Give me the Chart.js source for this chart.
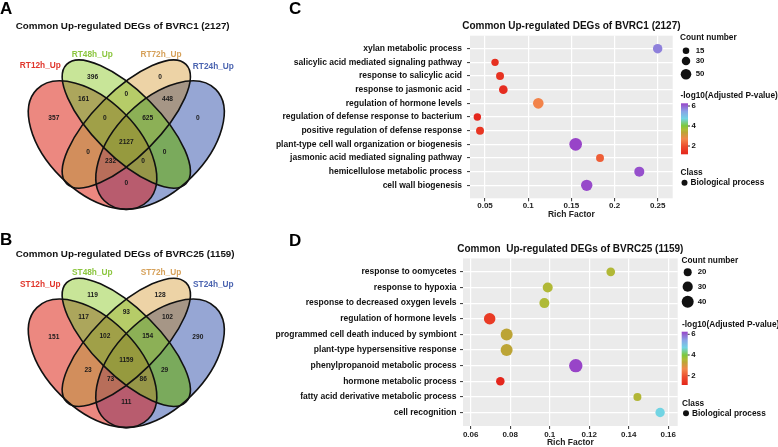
<!DOCTYPE html>
<html>
<head>
<meta charset="utf-8">
<title>Common up-regulated DEGs</title>
<script src="https://cdn.jsdelivr.net/npm/chart.js@4.4.1/dist/chart.umd.min.js"></script>
<style>
  html, body { margin: 0; padding: 0; background: #fff; }
  #fig { position: relative; width: 778px; height: 447px; overflow: hidden; }
  #fig canvas { position: absolute; }
  .tag { position: absolute; font: bold 17px/1 "Liberation Sans", Arial, sans-serif; color: #000; }
</style>
</head>
<body>
<div id="fig">
  <canvas id="vennA" width="262" height="218" style="left:0;top:0"></canvas>
  <canvas id="vennB" width="262" height="229" style="left:0;top:218px"></canvas>
  <canvas id="dotC" width="513" height="222" style="left:265px;top:0"></canvas>
  <canvas id="dotD" width="513" height="225" style="left:265px;top:222px"></canvas>
  <div class="tag" style="left:0;top:0">A</div>
  <div class="tag" style="left:0;top:231px">B</div>
  <div class="tag" style="left:289px;top:0">C</div>
  <div class="tag" style="left:289px;top:232px">D</div>
</div>
<script>
// ---- data: Venn panels (region order matches regionKeys) ----
const setKeys = ['R', 'G', 'O', 'B'];
const regionKeys = ['G', 'GO', 'O', 'RG', 'RGO', 'RGOB', 'GOB', 'OB', 'R', 'RO', 'ROB', 'RGB', 'GB', 'B', 'RB'];
const setsA = ['RT12h_Up', 'RT48h_Up', 'RT72h_Up', 'RT24h_Up'];
const countsA = [396, 0, 0, 161, 0, 2127, 625, 448, 357, 0, 232, 0, 0, 0, 0];
const setsB = ['ST12h_Up', 'ST48h_Up', 'ST72h_Up', 'ST24h_Up'];
const countsB = [119, 93, 128, 117, 102, 1159, 154, 102, 151, 23, 73, 86, 29, 290, 111];

// ---- data: GO dot plot C ----
const termsC = ['xylan metabolic process', 'salicylic acid mediated signaling pathway', 'response to salicylic acid',
  'response to jasmonic acid', 'regulation of hormone levels', 'regulation of defense response to bacterium',
  'positive regulation of defense response', 'plant-type cell wall organization or biogenesis',
  'jasmonic acid mediated signaling pathway', 'hemicellulose metabolic process', 'cell wall biogenesis'];
const richC = [0.250, 0.0616, 0.0674, 0.0712, 0.1117, 0.0411, 0.0442, 0.155, 0.1832, 0.2287, 0.1678];
const countC = [38, 21, 25, 31, 50, 21, 25, 74, 25, 44, 59];
const pvalC = [5.76, 1.38, 1.45, 1.30, 2.65, 1.17, 1.52, 6.27, 2.19, 6.17, 6.22];
const xTicksC = [0.05, 0.1, 0.15, 0.2, 0.25];
const sizeBreaksC = [15, 30, 50];

// ---- data: GO dot plot D ----
const termsD = ['response to oomycetes', 'response to hypoxia', 'response to decreased oxygen levels',
  'regulation of hormone levels', 'programmed cell death induced by symbiont', 'plant-type hypersensitive response',
  'phenylpropanoid metabolic process', 'hormone metabolic process', 'fatty acid derivative metabolic process',
  'cell recognition'];
const richD = [0.1309, 0.0990, 0.0973, 0.0696, 0.0782, 0.0782, 0.1132, 0.0750, 0.1444, 0.1559];
const countD = [23, 29, 29, 37, 40, 40, 49, 22, 20, 26];
const pvalD = [3.55, 3.55, 3.58, 1.55, 3.30, 3.30, 6.25, 1.10, 3.52, 4.70];
const xTicksD = [0.06, 0.08, 0.1, 0.12, 0.14, 0.16];
const sizeBreaksD = [20, 30, 40];
const pvalTicks = [2, 4, 6];

// ---- layout / style ----
const FONT = '"Liberation Sans", Arial, sans-serif';
Chart.defaults.font.family = FONT;

// ellipses in venn units (x right, y up), rot in screen degrees
const vennShapes = [
  { cx: 0.35, cy: 0.47, a: 0.35, b: 0.20, rot: 45 },
  { cx: 0.50, cy: 0.563, a: 0.375, b: 0.145, rot: 45 },
  { cx: 0.50, cy: 0.563, a: 0.375, b: 0.145, rot: -45 },
  { cx: 0.65, cy: 0.47, a: 0.35, b: 0.20, rot: -45 }
];
const regionPos = [[0.35, 0.77], [0.5, 0.695], [0.65, 0.77], [0.31, 0.675], [0.405, 0.59], [0.5, 0.485],
  [0.595, 0.59], [0.683, 0.675], [0.178, 0.588], [0.33, 0.44], [0.43, 0.40], [0.575, 0.40], [0.67, 0.44],
  [0.818, 0.588], [0.5, 0.30]];
const setLabelPos = [[0.118, 0.82], [0.349, 0.869], [0.654, 0.869], [0.887, 0.817]];
const setColours = ['#E0362C', '#8CC63F', '#D6A15A', '#4B64B0'];
const regionFill = {
  G: '#C8E598', GO: '#B6CC68', O: '#EDD3A6', RG: '#ACA65C', RGO: '#A0A048', RGOB: '#969A3E',
  GOB: '#8CB056', OB: '#A69686', R: '#EC8880', RO: '#D28E5C', ROB: '#B86E5A', RGB: '#969648',
  GB: '#7AAA5C', B: '#96A6D4', RB: '#B85C6E'
};

const colourStops = [
  [0.00, '#E4261C'], [0.15, '#EC4A2C'], [0.30, '#F2874C'], [0.43, '#BBA535'], [0.48, '#B0BA36'],
  [0.56, '#7CC83C'], [0.70, '#72D4E4'], [0.84, '#88A4E6'], [1.00, '#9844C8']
];

function hexToRgb(h) {
  const n = parseInt(h.slice(1), 16);
  return [(n >> 16) & 255, (n >> 8) & 255, n & 255];
}

function pvalColour(p, lim) {
  const t = Math.min(1, Math.max(0, (p - lim[0]) / (lim[1] - lim[0])));
  for (let i = 1; i < colourStops.length; i++) {
    const [t1, c1] = colourStops[i];
    const [t0, c0] = colourStops[i - 1];
    if (t <= t1) {
      const f = (t - t0) / (t1 - t0);
      const a = hexToRgb(c0), b = hexToRgb(c1);
      return 'rgb(' + a.map((v, k) => Math.round(v + (b[k] - v) * f)).join(',') + ')';
    }
  }
  return colourStops[colourStops.length - 1][1];
}

// ---- Venn ----
function vennPlugin(sets, counts, title, titleY) {
  return {
    id: 'venn',
    beforeDatasetsDraw(chart) {
      const { ctx, scales: { x, y } } = chart;
      const k = x.getPixelForValue(1) - x.getPixelForValue(0);
      const shapes = vennShapes.map(e => ({
        cx: x.getPixelForValue(e.cx), cy: y.getPixelForValue(e.cy),
        rx: e.a * k, ry: e.b * k, rot: e.rot * Math.PI / 180
      }));
      const trace = s => {
        ctx.moveTo(s.cx + s.rx * Math.cos(s.rot), s.cy + s.rx * Math.sin(s.rot));
        ctx.ellipse(s.cx, s.cy, s.rx, s.ry, s.rot, 0, 2 * Math.PI);
      };
      // paint each region on its own, clipped in/out of every ellipse
      regionKeys.forEach(key => {
        ctx.save();
        shapes.forEach((s, i) => {
          const inside = key.includes(setKeys[i]);
          ctx.beginPath();
          if (!inside) ctx.rect(0, 0, chart.width, chart.height);
          trace(s);
          ctx.clip(inside ? 'nonzero' : 'evenodd');
        });
        ctx.fillStyle = regionFill[key];
        ctx.fillRect(0, 0, chart.width, chart.height);
        ctx.restore();
      });
      ctx.save();
      ctx.lineWidth = 1.6;
      ctx.strokeStyle = '#111';
      shapes.forEach(s => { ctx.beginPath(); trace(s); ctx.stroke(); });
      ctx.restore();
    },
    afterDatasetsDraw(chart) {
      const { ctx, scales: { x, y } } = chart;
      const pts = chart.getDatasetMeta(0).data;
      ctx.save();
      ctx.textAlign = 'center';
      ctx.textBaseline = 'middle';
      ctx.fillStyle = '#1a1a1a';
      ctx.font = 'bold 6.6px ' + FONT;
      pts.forEach((p, i) => ctx.fillText(String(counts[i]), p.x, p.y));
      ctx.font = 'bold 8.3px ' + FONT;
      sets.forEach((s, i) => {
        ctx.fillStyle = setColours[i];
        ctx.fillText(s, x.getPixelForValue(setLabelPos[i][0]), y.getPixelForValue(setLabelPos[i][1]));
      });
      ctx.textAlign = 'left';
      ctx.fillStyle = '#111';
      ctx.font = 'bold 9.8px ' + FONT;
      ctx.fillText(title, 15.7, titleY);
      ctx.restore();
    }
  };
}

function vennChart(id, sets, counts, title, titleY, yMin, yMax) {
  return new Chart(document.getElementById(id), {
    type: 'scatter',
    data: { datasets: [{ data: regionPos.map(p => ({ x: p[0], y: p[1] })), pointRadius: 0 }] },
    options: {
      responsive: false, animation: false, events: [],
      layout: { padding: 0 },
      plugins: { legend: { display: false }, tooltip: { enabled: false } },
      scales: {
        x: { type: 'linear', display: false, min: -0.0613, max: 1.1031 },
        y: { type: 'linear', display: false, min: yMin, max: yMax }
      }
    },
    plugins: [vennPlugin(sets, counts, title, titleY)]
  });
}

vennChart('vennA', setsA, countsA, 'Common Up-regulated DEGs of BVRC1 (2127)', 26.7, 0.1473, 1.112);
vennChart('vennB', setsB, countsB, 'Common Up-regulated DEGs of BVRC25 (1159)', 36.3, 0.0999, 1.1133);

// ---- dot plots ----
const panelBg = {
  id: 'panelBg',
  beforeDraw(chart) {
    const { ctx, chartArea: a } = chart;
    ctx.save();
    ctx.fillStyle = '#EBEBEB';
    ctx.fillRect(a.left, a.top, a.right - a.left, a.bottom - a.top);
    ctx.restore();
  }
};

function dotLegend(cfg) {
  const L = cfg.legend;
  return {
    id: 'dotLegend',
    afterDraw(chart) {
      const { ctx, chartArea: a } = chart;
      ctx.save();
      ctx.fillStyle = '#111';
      ctx.textBaseline = 'middle';
      ctx.textAlign = 'center';
      ctx.font = 'bold 10px ' + FONT;
      ctx.fillText(cfg.title, (a.left + a.right) / 2, L.titleY);

      ctx.textAlign = 'left';
      ctx.font = 'bold 8.3px ' + FONT;
      ctx.fillText('Count number', L.x, L.countY);
      ctx.font = 'bold 7.8px ' + FONT;
      cfg.sizeBreaks.forEach((c, i) => {
        ctx.beginPath();
        ctx.arc(L.keyX, L.keyY[i], cfg.size(c), 0, 2 * Math.PI);
        ctx.fill();
        ctx.fillText(String(c), L.keyLabelX, L.keyY[i]);
      });

      ctx.font = 'bold 8.3px ' + FONT;
      ctx.fillText('-log10(Adjusted P-value)', L.x + 0.5, L.pvalY);
      const lim = cfg.limits;
      const g = ctx.createLinearGradient(0, L.barBottom, 0, L.barTop);
      colourStops.forEach(([t, c]) => g.addColorStop(t, c));
      ctx.fillStyle = g;
      ctx.fillRect(L.barX, L.barTop, L.barW, L.barBottom - L.barTop);
      ctx.fillStyle = '#111';
      ctx.strokeStyle = '#333';
      ctx.lineWidth = 1;
      ctx.font = 'bold 7.8px ' + FONT;
      pvalTicks.forEach(t => {
        const ty = L.barBottom - (t - lim[0]) / (lim[1] - lim[0]) * (L.barBottom - L.barTop);
        ctx.beginPath();
        ctx.moveTo(L.barX + L.barW, ty);
        ctx.lineTo(L.barX + L.barW + 2, ty);
        ctx.stroke();
        ctx.fillText(String(t), L.barX + L.barW + 3.5, ty);
      });

      ctx.font = 'bold 8.3px ' + FONT;
      ctx.fillText('Class', L.x + 0.5, L.classY);
      ctx.beginPath();
      ctx.arc(L.x + 4.5, L.classY + 10, 3, 0, 2 * Math.PI);
      ctx.fill();
      ctx.fillText('Biological process', L.x + 10.5, L.classY + 10);
      ctx.restore();
    }
  };
}

function dotChart(id, cfg) {
  const n = cfg.terms.length;
  return new Chart(document.getElementById(id), {
    type: 'bubble',
    data: {
      datasets: [{
        data: cfg.rich.map((v, i) => ({ x: v, y: i, r: cfg.size(cfg.count[i]) })),
        backgroundColor: cfg.pval.map(p => pvalColour(p, cfg.limits)),
        borderWidth: 0
      }]
    },
    options: {
      responsive: false, animation: false, events: [],
      layout: { padding: { left: 0, top: cfg.top, right: cfg.right, bottom: 0 } },
      plugins: { legend: { display: false }, tooltip: { enabled: false } },
      scales: {
        x: {
          type: 'linear', min: cfg.xMin, max: cfg.xMax,
          afterBuildTicks: s => { s.ticks = cfg.xTicks.map(v => ({ value: v })); },
          afterFit: s => { s.height = cfg.xAxisH; },
          ticks: {
            callback: v => String(+v.toFixed(2)), autoSkip: false, maxRotation: 0,
            font: { size: 8, weight: 'bold' }, color: '#222', padding: cfg.xTickPad
          },
          grid: { color: '#fff', lineWidth: 1.2, tickColor: '#333', tickLength: 3, tickWidth: 1 },
          border: { display: false },
          title: {
            display: true, text: 'Rich Factor', color: '#222',
            font: { size: 8.5, weight: 'bold', lineHeight: 1 }, padding: { top: 0, bottom: cfg.titlePad }
          }
        },
        y: {
          type: 'linear', reverse: true, min: -cfg.yPad, max: n - 1 + cfg.yPad,
          afterBuildTicks: s => { s.ticks = cfg.terms.map((t, i) => ({ value: i })); },
          afterFit: s => { s.width = cfg.yAxisW; },
          ticks: {
            callback: (v, i) => cfg.terms[i], autoSkip: false,
            font: { size: 8.5, weight: 'bold' }, color: '#111', padding: cfg.yTickPad
          },
          grid: { color: '#fff', lineWidth: 1.2, tickColor: '#333', tickLength: 3, tickWidth: 1 },
          border: { display: false }
        }
      }
    },
    plugins: [panelBg, dotLegend(cfg)]
  });
}

const sizeC = c => Math.sqrt(3.5 + 0.49 * c);
const sizeD = c => Math.sqrt(Math.max(c - 4, 1));

dotChart('dotC', {
  terms: termsC, rich: richC, count: countC, pval: pvalC, xTicks: xTicksC, sizeBreaks: sizeBreaksC,
  limits: [Math.min(...pvalC), Math.max(...pvalC)], size: sizeC,
  title: 'Common Up-regulated DEGs of BVRC1 (2127)',
  xMin: 0.0326, xMax: 0.2674, yPad: 0.95,
  top: 35.7, right: 105.3, yAxisW: 205, xAxisH: 23.7, xTickPad: 0, yTickPad: 5, titlePad: 3.4,
  legend: {
    titleY: 26.7, x: 415, countY: 37.7, keyX: 421, keyY: [50.7, 61, 74.3], keyLabelX: 430.7,
    pvalY: 96, barX: 416, barW: 7, barTop: 103.3, barBottom: 154.3, classY: 172.7
  }
});

dotChart('dotD', {
  terms: termsD, rich: richD, count: countD, pval: pvalD, xTicks: xTicksD, sizeBreaks: sizeBreaksD,
  limits: [Math.min(...pvalD), Math.max(...pvalD)], size: sizeD,
  title: 'Common  Up-regulated DEGs of BVRC25 (1159)',
  xMin: 0.0561, xMax: 0.1648, yPad: 0.86,
  top: 36.4, right: 100.3, yAxisW: 198, xAxisH: 21, xTickPad: 1, yTickPad: 3.5, titlePad: 0,
  legend: {
    titleY: 27, x: 416.5, countY: 39, keyX: 422.7, keyY: [50.3, 64.7, 79.7], keyLabelX: 432.7,
    pvalY: 102.3, barX: 416.7, barW: 6, barTop: 109.7, barBottom: 163, classY: 181.3
  }
});
</script>
</body>
</html>
